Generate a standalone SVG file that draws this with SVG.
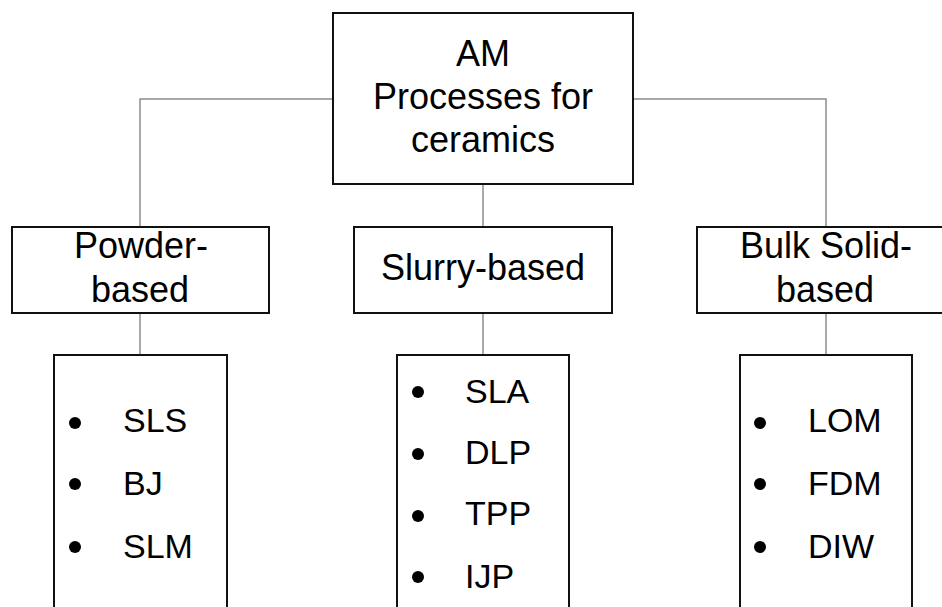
<svg xmlns="http://www.w3.org/2000/svg" width="942" height="607" viewBox="0 0 942 607">
<style>
.box{fill:#fff;stroke:#111;stroke-width:2}
.conn{fill:none;stroke:#8c8c8c;stroke-width:1.5}
.t{font-family:"Liberation Sans",Arial,sans-serif;fill:#000}
.h{font-size:36px;text-anchor:middle}
.m{font-size:36px;text-anchor:middle}
.li{font-size:34px}
.dot{fill:#000}
</style>
<rect width="942" height="607" fill="#fff"/>
<g id="connectors">
<path class="conn" d="M333 99 H140 V227"/>
<path class="conn" d="M633 99 H826 V227"/>
<path class="conn" d="M483 184 V227"/>
<path class="conn" d="M140 313 V355"/>
<path class="conn" d="M483 313 V355"/>
<path class="conn" d="M826 313 V355"/>
</g>
<g id="root">
<rect class="box" x="333" y="13" width="300" height="171"/>
<text class="t h" x="483" y="66">AM</text>
<text class="t h" x="483" y="109">Processes for</text>
<text class="t h" x="483" y="152">ceramics</text>
</g>
<g id="powder">
<rect class="box" x="12" y="227" width="257" height="86"/>
<text class="t m" x="141" y="258">Powder-</text>
<text class="t m" x="140" y="302">based</text>
</g>
<g id="slurry">
<rect class="box" x="354" y="227" width="258" height="86"/>
<text class="t m" x="483" y="280">Slurry-based</text>
</g>
<g id="bulk">
<rect class="box" x="697" y="227" width="258" height="86"/>
<text class="t m" x="826" y="258">Bulk Solid-</text>
<text class="t m" x="825" y="302">based</text>
</g>
<g id="powder-list">
<rect class="box" x="54" y="355" width="173" height="270"/>
<circle class="dot" cx="75" cy="423" r="6"/>
<circle class="dot" cx="75" cy="484" r="6"/>
<circle class="dot" cx="75" cy="547" r="6"/>
<text class="t li" x="123" y="432">SLS</text>
<text class="t li" x="123" y="495">BJ</text>
<text class="t li" x="123" y="558">SLM</text>
</g>
<g id="slurry-list">
<rect class="box" x="397" y="355" width="172" height="270"/>
<circle class="dot" cx="418" cy="392" r="6"/>
<circle class="dot" cx="418" cy="454" r="6"/>
<circle class="dot" cx="418" cy="516" r="6"/>
<circle class="dot" cx="418" cy="577" r="6"/>
<text class="t li" x="465" y="403">SLA</text>
<text class="t li" x="465" y="464">DLP</text>
<text class="t li" x="465" y="525">TPP</text>
<text class="t li" x="465" y="588">IJP</text>
</g>
<g id="bulk-list">
<rect class="box" x="740" y="355" width="172" height="270"/>
<circle class="dot" cx="760" cy="423" r="6"/>
<circle class="dot" cx="760" cy="484" r="6"/>
<circle class="dot" cx="760" cy="547" r="6"/>
<text class="t li" x="808" y="432">LOM</text>
<text class="t li" x="808" y="495">FDM</text>
<text class="t li" x="808" y="558">DIW</text>
</g>
</svg>
